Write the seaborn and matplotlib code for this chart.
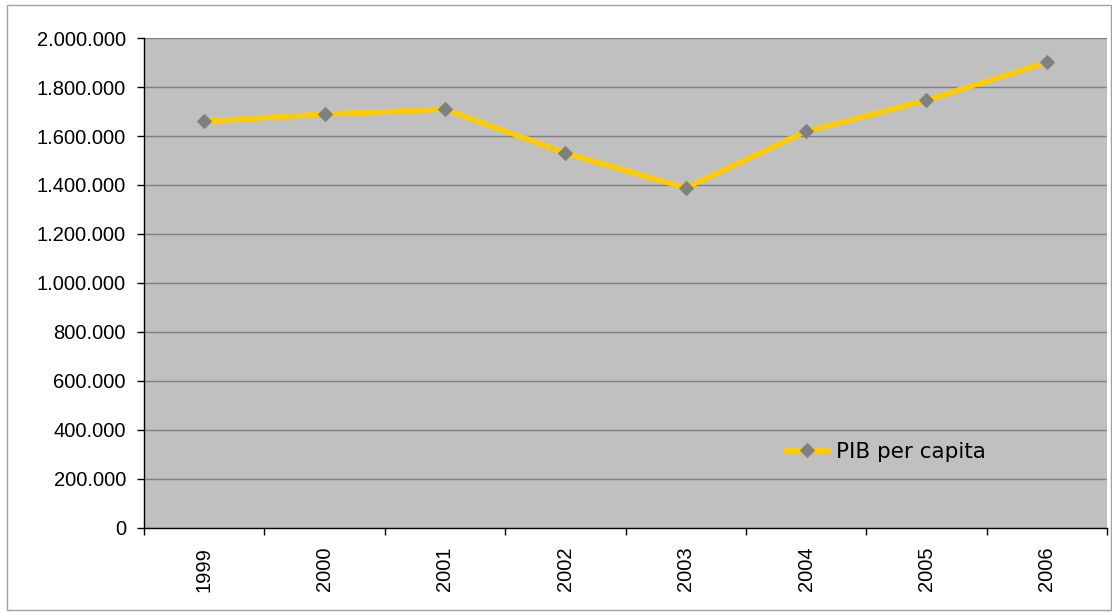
import matplotlib
matplotlib.use('Agg')
import matplotlib.pyplot as plt
import matplotlib.ticker as mticker
from matplotlib.patches import Rectangle
import pandas as pd
import seaborn as sns

years = ['1999', '2000', '2001', '2002', '2003', '2004', '2005', '2006']
pib_per_capita = [1661000, 1690000, 1710000, 1532000, 1389000, 1620000, 1747000, 1902000]
series_label = 'PIB per capita'
y_ticks = [0, 200000, 400000, 600000, 800000, 1000000, 1200000, 1400000, 1600000, 1800000, 2000000]

df = pd.DataFrame({'pos': range(len(years)), 'year': years, 'value': pib_per_capita})

sns.set_style('white')
plt.rcParams['font.family'] = ['Liberation Sans', 'DejaVu Sans']
plt.rcParams['text.color'] = 'black'

fig = plt.figure(figsize=(11.12, 6.13), dpi=100)
ax = fig.add_axes([0.1295, 0.1387, 0.866, 0.7993])
ax.set_facecolor('#C0C0C0')

sns.lineplot(data=df, x='pos', y='value', ax=ax, color='#FFCC00', linewidth=3.8,
             marker='D', markersize=7, markerfacecolor='#808080',
             markeredgecolor='#808080', label=series_label)

ax.set_xlim(-0.5, len(years) - 0.5)
ax.set_ylim(0, 2000000)
ax.set_yticks(y_ticks)
ax.yaxis.set_major_formatter(mticker.FuncFormatter(lambda v, p: f'{int(v):,}'.replace(',', '.')))
ax.grid(axis='y', color='#808080', linewidth=1)
ax.set_axisbelow(True)

ax.set_xticks(range(len(years)))
ax.set_xticklabels(years, rotation=90)
ax.set_xticks([i - 0.5 for i in range(len(years) + 1)], minor=True)
ax.tick_params(axis='x', which='major', length=0, pad=13.5, labelsize=14.5, labelcolor='black')
ax.tick_params(axis='x', which='minor', length=5, width=1, color='black', direction='out', bottom=True)
ax.tick_params(axis='y', length=5, width=1, color='black', direction='out', left=True,
               labelsize=14.5, labelcolor='black', pad=8)
ax.set_xlabel('')
ax.set_ylabel('')

for side in ['top', 'right']:
    ax.spines[side].set_visible(False)
for side in ['left', 'bottom']:
    ax.spines[side].set_color('black')
    ax.spines[side].set_linewidth(1)

leg = ax.legend(loc='center left', bbox_to_anchor=(0.657, 0.155), frameon=False,
                prop={'family': 'DejaVu Sans', 'size': 15.5}, labelcolor='black',
                handlelength=2.0, handletextpad=0.35, borderaxespad=0)

fig.patches.append(Rectangle((7 / 1112, 3 / 613), 1 - 8 / 1112, 1 - 8 / 613,
                             transform=fig.transFigure, fill=False,
                             edgecolor='#A0A0A0', linewidth=1))

fig.savefig('out.png', dpi=100)
